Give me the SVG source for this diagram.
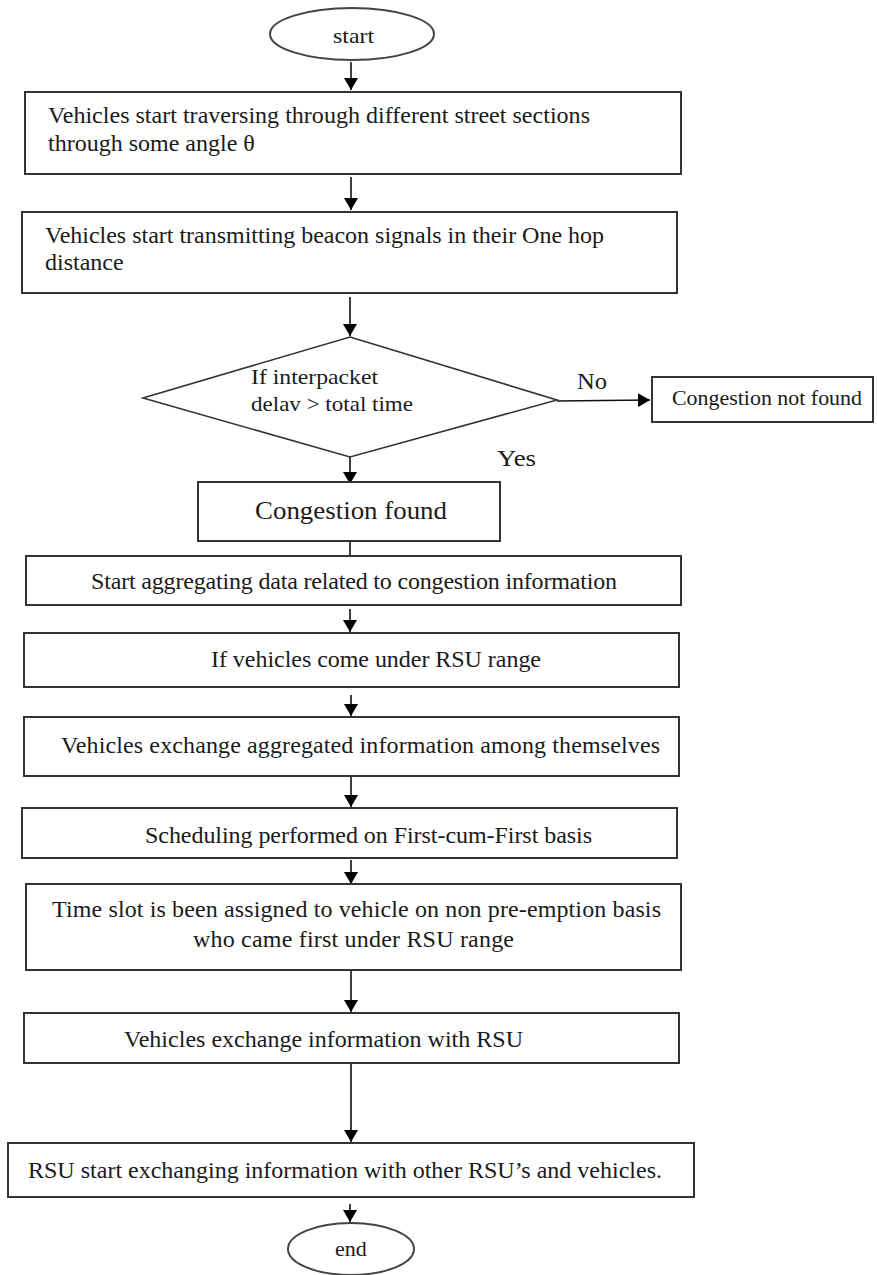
<svg xmlns="http://www.w3.org/2000/svg" width="877" height="1275" viewBox="0 0 877 1275">
<defs>
<marker id="ah" viewBox="0 0 12 14" refX="12" refY="7" markerWidth="12" markerHeight="14" markerUnits="userSpaceOnUse" orient="auto">
<path d="M0,0 L12,7 L0,14 z" fill="#000"/>
</marker>
<style>
.box{fill:#fff;stroke:#333;stroke-width:2}
.t{font-family:"Liberation Serif","Times New Roman",serif;fill:#1a1a1a}
.c{stroke:#111;stroke-width:1.6;fill:none}
.a{stroke:#111;stroke-width:1.6;fill:none;marker-end:url(#ah)}
</style>
</defs>
<rect width="877" height="1275" fill="#fff"/>
<g id="connectors">
<line class="a" x1="351" y1="62" x2="351" y2="90"/>
<line class="a" x1="351" y1="177" x2="351" y2="210"/>
<line class="a" x1="350" y1="297" x2="350" y2="336"/>
<line class="a" x1="350" y1="456" x2="350" y2="484"/>
<line class="c" x1="350" y1="541" x2="350" y2="556"/>
<line class="a" x1="350" y1="609" x2="350" y2="632"/>
<line class="a" x1="351" y1="695" x2="351" y2="716"/>
<line class="a" x1="351" y1="777" x2="351" y2="807"/>
<line class="a" x1="351" y1="860" x2="351" y2="884"/>
<line class="a" x1="351" y1="970" x2="351" y2="1012"/>
<line class="a" x1="351" y1="1063" x2="351" y2="1142"/>
<line class="a" x1="350" y1="1204" x2="350" y2="1222"/>
<line class="a" x1="557" y1="401" x2="650" y2="400"/>
</g>
<g id="start">
<ellipse cx="352" cy="34" rx="82" ry="26" fill="#fff" stroke="#444" stroke-width="2"/>
<text class="t" x="333" y="43" font-size="21" textLength="41" lengthAdjust="spacingAndGlyphs">start</text>
</g>
<g id="n1">
<rect class="box" x="25" y="92" width="656" height="82"/>
<text class="t" font-size="24"><tspan x="48" y="123" textLength="542" lengthAdjust="spacingAndGlyphs">Vehicles start traversing through different street sections</tspan><tspan x="48" y="151">through some angle θ</tspan></text>
</g>
<g id="n2">
<rect class="box" x="22" y="212" width="655" height="81"/>
<text class="t" font-size="24"><tspan x="45" y="243" textLength="559">Vehicles start transmitting  beacon signals in their One hop</tspan><tspan x="45" y="270">distance</tspan></text>
</g>
<g id="decision">
<polygon points="350,337 557,400 350,457 143,398" fill="#fff" stroke="#333" stroke-width="1.6"/>
<text class="t" font-size="22"><tspan x="251" y="384" textLength="127" lengthAdjust="spacingAndGlyphs">If interpacket</tspan><tspan x="251" y="411" textLength="162" lengthAdjust="spacingAndGlyphs">delav &gt; total  time</tspan></text>
</g>
<g id="labels">
<text class="t" x="577" y="389" font-size="24" textLength="30" lengthAdjust="spacingAndGlyphs">No</text>
<text class="t" x="497" y="466" font-size="24" textLength="39" lengthAdjust="spacingAndGlyphs">Yes</text>
</g>
<g id="notfound">
<rect class="box" x="652" y="377" width="221" height="45"/>
<text class="t" x="672" y="405" font-size="21" textLength="190" lengthAdjust="spacingAndGlyphs">Congestion not found</text>
</g>
<g id="found">
<rect class="box" x="198" y="482" width="302" height="59"/>
<text class="t" x="255" y="519" font-size="26" textLength="192" lengthAdjust="spacingAndGlyphs">Congestion found</text>
</g>
<g id="n3">
<rect class="box" x="26" y="556" width="655" height="49"/>
<text class="t" x="91" y="589" font-size="24" textLength="526">Start aggregating data related  to congestion information</text>
</g>
<g id="n4">
<rect class="box" x="24" y="633" width="655" height="54"/>
<text class="t" x="211" y="667" font-size="24" textLength="330">If vehicles  come under RSU range</text>
</g>
<g id="n5">
<rect class="box" x="24" y="717" width="655" height="59"/>
<text class="t" x="61" y="753" font-size="24" textLength="599">Vehicles exchange aggregated information among themselves</text>
</g>
<g id="n6">
<rect class="box" x="22" y="808" width="655" height="50"/>
<text class="t" x="145" y="843" font-size="24" textLength="447">Scheduling performed on First-cum-First basis</text>
</g>
<g id="n7">
<rect class="box" x="26" y="884" width="655" height="86"/>
<text class="t" font-size="24"><tspan x="52" y="917" textLength="609">Time slot is been assigned to vehicle on non pre-emption basis</tspan><tspan x="193" y="947" textLength="321">who came first under RSU range</tspan></text>
</g>
<g id="n8">
<rect class="box" x="24" y="1013" width="655" height="50"/>
<text class="t" x="124" y="1047" font-size="24" textLength="399">Vehicles exchange information  with RSU</text>
</g>
<g id="n9">
<rect class="box" x="8" y="1143" width="686" height="54"/>
<text class="t" x="28" y="1178" font-size="24" textLength="634">RSU start exchanging information  with other RSU’s and vehicles.</text>
</g>
<g id="end">
<ellipse cx="351" cy="1249" rx="63" ry="26" fill="#fff" stroke="#444" stroke-width="2"/>
<text class="t" x="351" y="1256" font-size="22" text-anchor="middle">end</text>
</g>
</svg>
